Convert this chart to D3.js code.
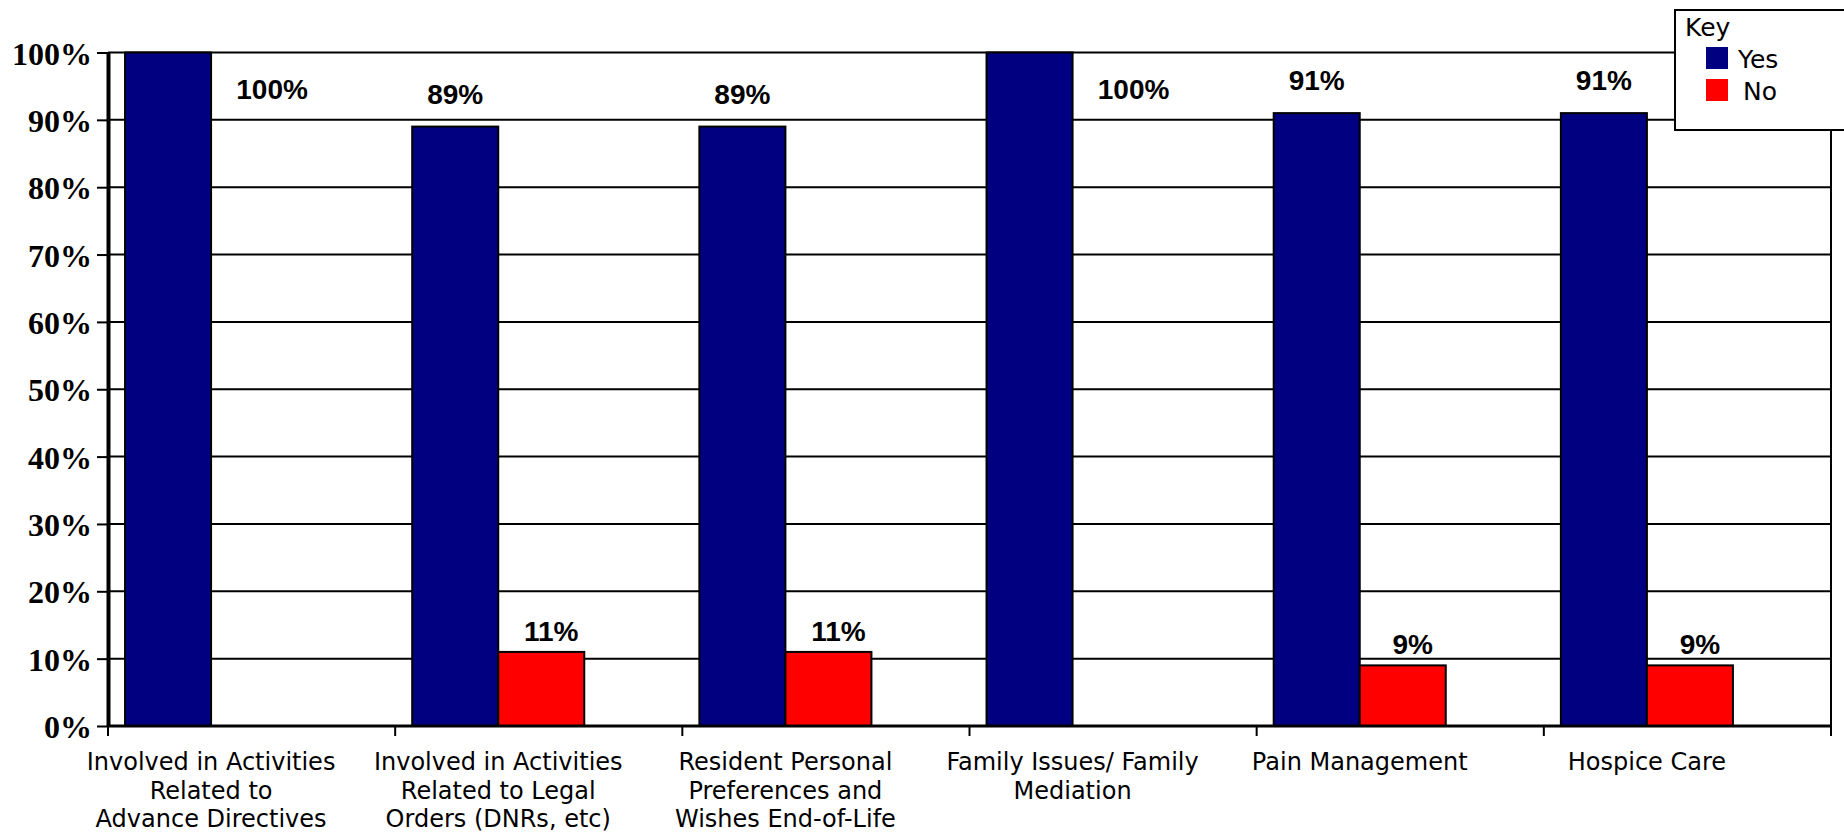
<!DOCTYPE html>
<html>
<head>
<meta charset="utf-8">
<script src="https://cdn.jsdelivr.net/npm/d3@7"></script>
<style>
  body { margin: 0; background: #fff; }
  svg { display: block; }
</style>
</head>
<body>
<div id="chart"></div>
<script>
// Chart data
var categories = [
    "Involved in Activities|Related to|Advance Directives",
    "Involved in Activities|Related to Legal|Orders (DNRs, etc)",
    "Resident Personal|Preferences and|Wishes End-of-Life",
    "Family Issues/ Family|Mediation",
    "Pain Management",
    "Hospice Care"
];
var seriesNames = ["Yes", "No"];
var yesValues = [100, 89, 89, 100, 91, 91];
var noValues = [0, 11, 11, 0, 9, 9];
var yTicks = [0, 10, 20, 30, 40, 50, 60, 70, 80, 90, 100];
var colors = { Yes: "#000080", No: "#ff0000" };

var fullWidth = 1844, fullHeight = 834;
var plot = { left: 108, right: 1831, top: 52.5, bottom: 726 };

var svg = d3.select("#chart").append("svg")
    .attr("width", fullWidth)
    .attr("height", fullHeight);

// Scales
var x0 = d3.scaleBand().domain(categories).range([plot.left, plot.right]).padding(0);
var x1 = d3.scaleBand().domain(seriesNames).range([0, x0.bandwidth()])
    .paddingInner(0).paddingOuter(0.669).align(0.148);
var y = d3.scaleLinear().domain([0, 100]).range([plot.bottom, plot.top]);

// Horizontal gridlines
svg.append("g").selectAll("line")
    .data(yTicks.filter(d => d > 0))
    .enter().append("line")
    .attr("x1", plot.left).attr("x2", plot.right)
    .attr("y1", d => y(d)).attr("y2", d => y(d))
    .attr("stroke", "#000").attr("stroke-width", 2);

// Right border of plot area
svg.append("line")
    .attr("x1", plot.right).attr("x2", plot.right)
    .attr("y1", plot.top).attr("y2", plot.bottom)
    .attr("stroke", "#000").attr("stroke-width", 2);

// Data rows
var rows = categories.map((c, i) => ({ cat: c, Yes: yesValues[i], No: noValues[i] }));

// Bars
var groups = svg.append("g").selectAll("g")
    .data(rows)
    .enter().append("g")
    .attr("transform", d => "translate(" + x0(d.cat) + ",0)");

groups.selectAll("rect")
    .data(d => seriesNames.map(s => ({ key: s, value: d[s] })).filter(e => e.value > 0))
    .enter().append("rect")
    .attr("x", d => x1(d.key))
    .attr("y", d => y(d.value))
    .attr("width", x1.bandwidth())
    .attr("height", d => y(0) - y(d.value))
    .attr("fill", d => colors[d.key])
    .attr("stroke", "#000")
    .attr("stroke-width", 2);

// Value labels
groups.selectAll("text.val")
    .data(d => seriesNames.map(s => ({ key: s, value: d[s] })).filter(e => e.value > 0))
    .enter().append("text")
    .attr("class", "val")
    .attr("x", function(d) {
        if (d.value === 100) return x1("No") + x1.bandwidth() / 2 + 18;
        return x1(d.key) + x1.bandwidth() / 2 + (d.key === "No" ? 10 : 0);
    })
    .attr("y", function(d) {
        if (d.value === 100) return y(100) + 46;
        return y(d.value) - (d.key === "Yes" ? 23 : 11);
    })
    .attr("text-anchor", "middle")
    .style("font-family", "'Liberation Sans', Arial, sans-serif")
    .style("font-weight", "bold")
    .style("font-size", "28px")
    .text(d => d.value + "%");

// Y axis
var yAxis = svg.append("g")
    .attr("transform", "translate(" + plot.left + ",0)")
    .call(d3.axisLeft(y).tickValues(yTicks).tickFormat(d => d + "%").tickSize(11).tickPadding(5).tickSizeOuter(0));
yAxis.select(".domain").attr("stroke", "#000").attr("stroke-width", 4);
yAxis.selectAll(".tick line").attr("stroke", "#000").attr("stroke-width", 2);
yAxis.selectAll(".tick text")
    .attr("dy", "0.36em")
    .style("font-family", "'Liberation Serif', 'Times New Roman', serif")
    .style("font-weight", "bold")
    .style("font-size", "32px")
    .attr("fill", "#000");

// X axis baseline and boundary ticks
svg.append("line")
    .attr("x1", plot.left).attr("x2", plot.right)
    .attr("y1", y(0)).attr("y2", y(0))
    .attr("stroke", "#000").attr("stroke-width", 3);

var boundaries = categories.map(c => x0(c)).concat([plot.right]);
svg.append("g").selectAll("line")
    .data(boundaries)
    .enter().append("line")
    .attr("x1", d => d).attr("x2", d => d)
    .attr("y1", y(0)).attr("y2", y(0) + 10)
    .attr("stroke", "#000").attr("stroke-width", 2);

// Category labels, centred under each pair of bars
var catLabels = svg.append("g").selectAll("text")
    .data(categories)
    .enter().append("text")
    .attr("text-anchor", "middle")
    .attr("x", d => x0(d) + x1("No"))
    .attr("y", 770)
    .style("font-family", "'DejaVu Sans', Verdana, sans-serif")
    .style("font-size", "24px")
    .attr("fill", "#000");

catLabels.each(function(d) {
    var t = d3.select(this);
    d.split("|").forEach(function(line, i) {
        t.append("tspan")
            .attr("x", x0(d) + x1("No"))
            .attr("dy", i === 0 ? 0 : 28.5)
            .text(line);
    });
});

// LEGEND ---------------------------------------------
var legend = svg.append("g").attr("class", "legend");
legend.append("rect")
    .attr("x", 1675).attr("y", 10)
    .attr("width", 190).attr("height", 120)
    .attr("fill", "#fff").attr("stroke", "#000").attr("stroke-width", 2);
legend.append("text")
    .attr("x", 1685).attr("y", 36)
    .style("font-family", "'DejaVu Sans', Verdana, sans-serif")
    .style("font-size", "25px")
    .text("Key");

var legendItem = legend.selectAll(".legend-item")
    .data(seriesNames)
    .enter().append("g")
    .attr("class", "legend-item")
    .attr("transform", (d, i) => "translate(1706," + (47 + i * 32) + ")");
legendItem.append("rect")
    .attr("width", 22).attr("height", 22)
    .attr("fill", d => colors[d]);
legendItem.append("text")
    .attr("x", (d, i) => i === 0 ? 32 : 37)
    .attr("y", 21)
    .style("font-family", "'DejaVu Sans', Verdana, sans-serif")
    .style("font-size", "25px")
    .text(d => d);
// END LEGEND
</script>
</body>
</html>
